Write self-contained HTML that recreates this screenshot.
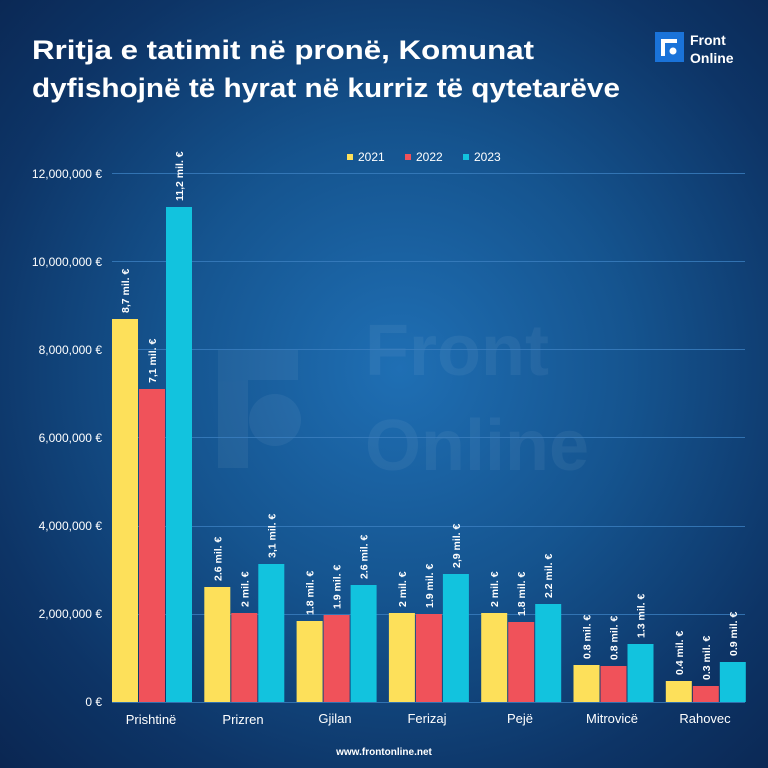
<!DOCTYPE html>
<html><head><meta charset="utf-8"><style>
html,body{margin:0;padding:0;width:768px;height:768px;overflow:hidden}
body{background:radial-gradient(ellipse 75% 75% at 52% 48%,#1f6fb4 0%,#15548f 40%,#0d3466 75%,#0a2550 100%);font-family:"Liberation Sans","DejaVu Sans",sans-serif}
</style></head><body>
<svg width="768" height="768" viewBox="0 0 768 768" xmlns="http://www.w3.org/2000/svg" font-family="Liberation Sans, DejaVu Sans, sans-serif">
<text x="32" y="59" fill="#fff" font-size="27" font-weight="bold" textLength="502" lengthAdjust="spacingAndGlyphs">Rritja e tatimit në pronë, Komunat</text>
<text x="32" y="97" fill="#fff" font-size="27" font-weight="bold" textLength="588" lengthAdjust="spacingAndGlyphs">dyfishojnë të hyrat në kurriz të qytetarëve</text>
<rect x="655" y="32" width="29" height="30" fill="#1a73d9"/>
<path d="M661 56 V39 H677 V43 H665 V56 Z" fill="#fff"/><circle cx="673" cy="51" r="3.5" fill="#fff"/>
<text x="690" y="45" fill="#fff" font-size="14" font-weight="bold">Front</text>
<text x="690" y="63" fill="#fff" font-size="14" font-weight="bold">Online</text>
<g opacity="0.05" fill="#fff"><path d="M218 468 V350 H298 V380 H248 V468 Z"/><circle cx="275" cy="420" r="26"/><text x="365" y="375" font-size="72" font-weight="bold">Front</text><text x="365" y="470" font-size="72" font-weight="bold">Online</text></g>
<g stroke="#3b7fc0" stroke-width="1" opacity="0.8">
<line x1="112" y1="173.5" x2="745" y2="173.5"/><line x1="112" y1="261.5" x2="745" y2="261.5"/><line x1="112" y1="349.5" x2="745" y2="349.5"/><line x1="112" y1="437.5" x2="745" y2="437.5"/><line x1="112" y1="526.5" x2="745" y2="526.5"/><line x1="112" y1="614.5" x2="745" y2="614.5"/><line x1="112" y1="702.5" x2="745" y2="702.5"/></g>
<g fill="#fff" font-size="12" text-anchor="end">
<text x="102" y="178">12,000,000 €</text><text x="102" y="266">10,000,000 €</text><text x="102" y="354">8,000,000 €</text><text x="102" y="442">6,000,000 €</text><text x="102" y="530">4,000,000 €</text><text x="102" y="618">2,000,000 €</text><text x="102" y="706">0 €</text></g>
<g font-size="12" fill="#fff"><rect x="347" y="154" width="6" height="6" fill="#fde05a"/><text x="358" y="161">2021</text><rect x="405" y="154" width="6" height="6" fill="#f0525a"/><text x="416" y="161">2022</text><rect x="463" y="154" width="6" height="6" fill="#12c3de"/><text x="474" y="161">2023</text></g>
<g id="bars"></g>
<g fill="#fff" font-size="13" text-anchor="middle">
<text x="151" y="724">Prishtinë</text><text x="243" y="724">Prizren</text><text x="335" y="723">Gjilan</text><text x="427" y="723">Ferizaj</text><text x="520" y="723">Pejë</text><text x="612" y="723">Mitrovicë</text><text x="705" y="723">Rahovec</text></g>
<text x="384" y="755" fill="#fff" font-size="10" font-weight="bold" text-anchor="middle">www.frontonline.net</text>
<g id="lbl"></g>
</svg>
<script>
var d=[["8,7 mil. €",319,"7,1 mil. €",389,"11,2 mil. €",207],["2.6 mil. €",587,"2 mil. €",613,"3,1 mil. €",564],["1.8 mil. €",621,"1.9 mil. €",615,"2.6 mil. €",585],["2 mil. €",613,"1.9 mil. €",614,"2,9 mil. €",574],["2 mil. €",613,"1.8 mil. €",622,"2.2 mil. €",604],["0.8  mil. €",665,"0.8  mil. €",666,"1.3  mil. €",644],["0.4 mil. €",681,"0.3 mil. €",686,"0.9 mil. €",662]];
var c=["#fde05a","#f0525a","#12c3de"],s="",t="";
d.forEach(function(g,i){var x0=112+i*92.3;for(var j=0;j<3;j++){var x=x0+j*27,y=g[j*2+1];s+='<rect x="'+x+'" y="'+y+'" width="26" height="'+(702-y)+'" fill="'+c[j]+'"/>';var cx=x+13+4,cy=y-6;t+='<text transform="translate('+cx+','+cy+') rotate(-90)" fill="#fff" font-size="10.5" font-weight="bold">'+g[j*2]+'</text>';}});
document.getElementById("bars").innerHTML=s;document.getElementById("lbl").innerHTML=t;
</script>
</body></html>
